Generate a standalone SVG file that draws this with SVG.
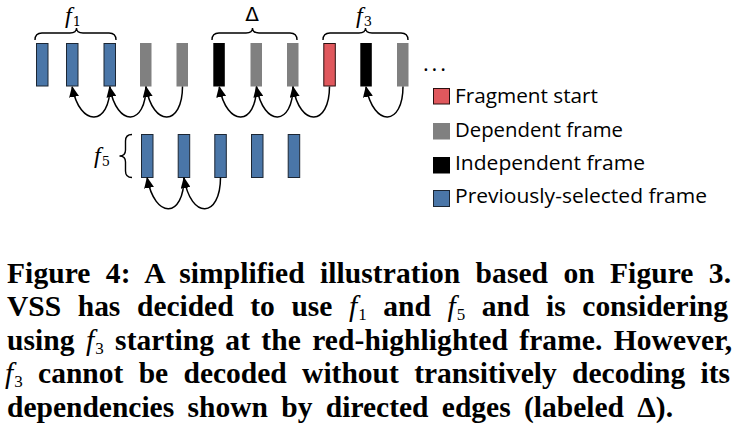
<svg xmlns="http://www.w3.org/2000/svg" width="737" height="435" viewBox="0 0 737 435">
<style>
.blue{fill:#4A76A8;stroke:#1c2633;stroke-width:1}
.red{fill:#E0585D;stroke:#2a1010;stroke-width:1}
.gray{fill:#808080}
.black{fill:#000}
.arc{fill:none;stroke:#000;stroke-width:1.5}
.brace{fill:none;stroke:#000;stroke-width:1.4}
.math{font-family:"Liberation Serif",serif;font-style:italic;font-size:24px;fill:#000}
.sub{font-family:"DejaVu Serif","Liberation Serif",serif;font-style:normal;font-size:13px}
.leg{font-family:"Open Sans","Noto Sans",sans-serif;font-size:20px;fill:#000}
.cap{font-family:"Liberation Serif",serif;font-weight:bold;font-size:29.5px;fill:#000}
.ci{font-style:italic;font-weight:normal}
.cs{font-size:17px;font-weight:normal}
</style>
<defs>
<marker id="ah" markerUnits="userSpaceOnUse" markerWidth="11" markerHeight="10" refX="10" refY="5" orient="auto">
<path d="M0,0 L11,5 L0,10 z" fill="#000"/>
</marker>
</defs>

<g id="row1">
<rect id="fr1" class="blue" x="36.5" y="43.5" width="11.5" height="42.5"/>
<rect id="fr2" class="blue" x="66.5" y="43.5" width="11.5" height="42.5"/>
<rect id="fr3" class="blue" x="104" y="43.5" width="11.5" height="42.5"/>
<rect id="fr4" class="gray" x="140" y="43" width="11.5" height="43.5"/>
<rect id="fr5" class="gray" x="176.5" y="43" width="11.5" height="43.5"/>
<rect id="fr6" class="black" x="213.3" y="43" width="11.5" height="43.5"/>
<rect id="fr7" class="gray" x="250.5" y="43" width="11.5" height="43.5"/>
<rect id="fr8" class="gray" x="287" y="43" width="11.5" height="43.5"/>
<rect id="fr9" class="red" x="323.8" y="43.5" width="11.5" height="42.5"/>
<rect id="fr10" class="black" x="360.3" y="43" width="11.5" height="43.5"/>
<rect id="fr11" class="gray" x="397" y="43" width="11.5" height="43.5"/>
</g>

<g id="row2">
<rect id="g1" class="blue" x="141.5" y="134.5" width="11.5" height="43"/>
<rect id="g2" class="blue" x="178.2" y="134.5" width="11.5" height="43"/>
<rect id="g3" class="blue" x="214.8" y="134.5" width="11.5" height="43"/>
<rect id="g4" class="blue" x="251.5" y="134.5" width="11.5" height="43"/>
<rect id="g5" class="blue" x="288.2" y="134.5" width="11.5" height="43"/>
</g>

<g id="braces">
<path class="brace" d="M35,40 Q35,33 42,33 L70,33 Q76.5,33 76.5,28 Q76.5,33 83,33 L109,33 Q116,33 116,40"/>
<path class="brace" d="M212,40 Q212,33 219,33 L246,33 Q252.5,33 252.5,28 Q252.5,33 259,33 L290,33 Q297,33 297,40"/>
<path class="brace" d="M323,40 Q323,33 330,33 L359,33 Q365.5,33 365.5,28 Q365.5,33 372,33 L401,33 Q408,33 408,40"/>
<path class="brace" d="M132,134.5 Q125.5,134.5 125.5,141 L125.5,150 Q125.5,156 119.5,156 Q125.5,156 125.5,162 L125.5,171 Q125.5,177.5 132,177.5"/>
</g>

<g id="labels">
<text class="math" x="65" y="23">f<tspan class="sub" dx="1" dy="3">1</tspan></text>
<text x="252" y="20.5" font-family="DejaVu Sans, sans-serif" font-size="20" text-anchor="middle">Δ</text>
<text class="math" x="356" y="23">f<tspan class="sub" dx="1" dy="3">3</tspan></text>
<text class="math" x="94" y="163">f<tspan class="sub" dx="1" dy="3">5</tspan></text>
<text x="423" y="71" font-family="Open Sans, sans-serif" font-size="22" textLength="23" lengthAdjust="spacing">...</text>
</g>

<g id="connectors">
<path class="arc" marker-end="url(#ah)" d="M110,86.5 C110,126 80,128 72.2,87"/>
<path class="arc" marker-end="url(#ah)" d="M146,86.5 C146,126 117,128 109.7,87"/>
<path class="arc" marker-end="url(#ah)" d="M182.5,86.5 C182.5,126 153,128 146,87"/>
<path class="arc" marker-end="url(#ah)" d="M256.5,86.5 C256.5,126 227,128 219.3,87"/>
<path class="arc" marker-end="url(#ah)" d="M293,86.5 C293,126 264,128 256.5,87"/>
<path class="arc" marker-end="url(#ah)" d="M329.5,86.5 C329.5,126 300,128 293,87"/>
<path class="arc" marker-end="url(#ah)" d="M403,86.5 C403,126 374,128 366,87"/>
<path class="arc" marker-end="url(#ah)" d="M184,177.5 C184,218 155,220 147.2,178"/>
<path class="arc" marker-end="url(#ah)" d="M220.5,177.5 C220.5,218 191,220 184,178"/>
</g>

<g id="legend">
<rect class="red" x="433.5" y="88.5" width="16" height="15.5"/>
<text class="leg" x="455" y="103.3" textLength="143" lengthAdjust="spacingAndGlyphs">Fragment start</text>
<rect class="gray" x="433" y="123" width="17" height="16.5"/>
<text class="leg" x="455" y="136.7" textLength="168" lengthAdjust="spacingAndGlyphs">Dependent frame</text>
<rect class="black" x="433" y="157" width="17" height="16.5"/>
<text class="leg" x="455" y="170" textLength="190" lengthAdjust="spacingAndGlyphs">Independent frame</text>
<rect class="blue" x="433.5" y="190.5" width="16" height="16"/>
<text class="leg" x="455" y="203.3" textLength="252" lengthAdjust="spacingAndGlyphs">Previously-selected frame</text>
</g>

<g id="caption">
<text class="cap" x="7" y="282.5" word-spacing="7.8" textLength="724" lengthAdjust="spacing">Figure 4: A simplified illustration based on Figure 3.</text>
<text class="cap" x="7" y="316" word-spacing="9.3" textLength="721" lengthAdjust="spacing">VSS has decided to use <tspan class="ci">f</tspan><tspan class="cs" dx="1" dy="4">1</tspan><tspan dy="-4"> and </tspan><tspan class="ci">f</tspan><tspan class="cs" dx="1" dy="4">5</tspan><tspan dy="-4"> and is considering</tspan></text>
<text class="cap" x="7" y="349.5" word-spacing="3.8" textLength="725" lengthAdjust="spacing">using <tspan class="ci">f</tspan><tspan class="cs" dx="1" dy="4">3</tspan><tspan dy="-4"> starting at the red-highlighted frame. However,</tspan></text>
<text class="cap" x="5" y="383" word-spacing="8" textLength="725" lengthAdjust="spacing"><tspan class="ci">f</tspan><tspan class="cs" dx="1" dy="4">3</tspan><tspan dy="-4"> cannot be decoded without transitively decoding its</tspan></text>
<text class="cap" x="7" y="416.5" word-spacing="6" textLength="666" lengthAdjust="spacing">dependencies shown by directed edges (labeled Δ).</text>
</g>
</svg>
